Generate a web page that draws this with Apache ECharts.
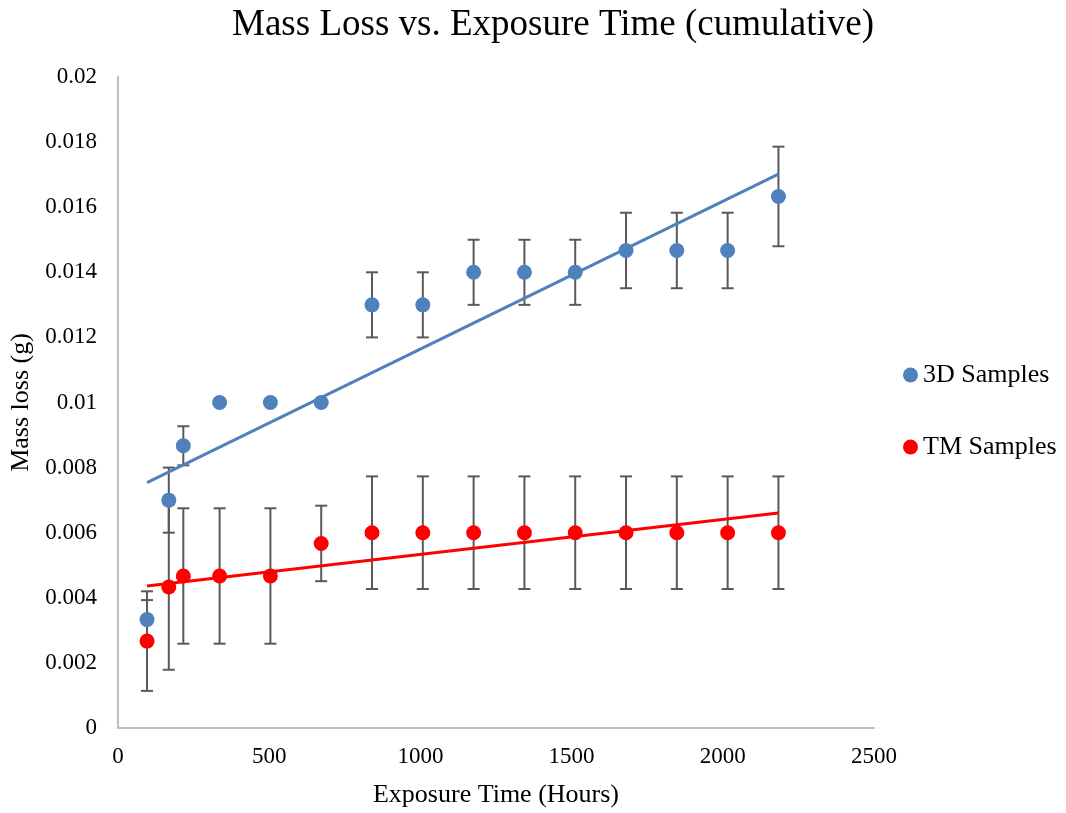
<!DOCTYPE html>
<html>
<head>
<meta charset="utf-8">
<script src="https://cdn.jsdelivr.net/npm/echarts@6/dist/echarts.min.js"></script>
<style>
  html, body { margin: 0; padding: 0; background: #fff; }
  #chart { width: 1066px; height: 813px; }
</style>
</head>
<body>
<div id="chart"></div>
<script>
  // exposure time (hours)
  const hours = [96, 168, 216, 336, 504, 672, 840, 1008, 1176, 1344, 1512, 1680, 1848, 2016, 2184]

  // 3D samples: mean mass loss and error (g)
  const mass3D = [0.00333, 0.007, 0.00867, 0.01, 0.01, 0.01, 0.013, 0.013, 0.014, 0.014, 0.014, 0.01467, 0.01467, 0.01467, 0.01633]
  const err3D = [0.0006, 0.001, 0.0006, 0, 0, 0, 0.001, 0.001, 0.001, 0.001, 0.001, 0.00116, 0.00116, 0.00116, 0.00153]

  // TM samples
  const massTM = [0.00267, 0.00433, 0.00467, 0.00467, 0.00467, 0.00567, 0.006, 0.006, 0.006, 0.006, 0.006, 0.006, 0.006, 0.006, 0.006]
  const errTM = [0.00153, 0.00254, 0.00208, 0.00208, 0.00208, 0.00116, 0.00173, 0.00173, 0.00173, 0.00173, 0.00173, 0.00173, 0.00173, 0.00173, 0.00173]

  const font = 'Liberation Serif'

  // least squares trend line, like excel's linear trendline
  function trend(xs, ys) {
    const n = xs.length
    const mx = xs.reduce((a, b) => a + b, 0) / n
    const my = ys.reduce((a, b) => a + b, 0) / n
    let sxy = 0, sxx = 0
    for (let i = 0; i < n; i++) {
      sxy += (xs[i] - mx) * (ys[i] - my)
      sxx += (xs[i] - mx) * (xs[i] - mx)
    }
    const b = sxy / sxx
    const a = my - b * mx
    const x0 = xs[0], x1 = xs[n - 1]
    return [[x0, a + b * x0], [x1, a + b * x1]]
  }

  function pts(ys) {
    return hours.map((h, i) => [h, ys[i]])
  }

  function errData(ys, es) {
    return hours.map((h, i) => [h, ys[i] - es[i], ys[i] + es[i]]).filter((d, i) => es[i] > 0)
  }

  function errorBar(params, api) {
    const lo = api.coord([api.value(0), api.value(1)])
    const hi = api.coord([api.value(0), api.value(2)])
    const w = 6
    const style = { stroke: '#595959', lineWidth: 2 }
    return {
      type: 'group',
      children: [
        { type: 'line', shape: { x1: lo[0], y1: lo[1], x2: hi[0], y2: hi[1] }, style: style },
        { type: 'line', shape: { x1: lo[0] - w, y1: lo[1], x2: lo[0] + w, y2: lo[1] }, style: style },
        { type: 'line', shape: { x1: hi[0] - w, y1: hi[1], x2: hi[0] + w, y2: hi[1] }, style: style }
      ]
    }
  }

  const chart = echarts.init(document.getElementById('chart'))

  const option = {
    animation: false,
    title: {
      text: 'Mass Loss vs. Exposure Time (cumulative)',
      left: 548,
      textAlign: 'center',
      top: 2,
      textStyle: { fontFamily: font, fontSize: 37, fontWeight: 'normal', color: '#000' }
    },
    legend: {
      data: ['3D Samples', 'TM Samples'],
      orient: 'vertical',
      left: 903,
      top: 362,
      padding: 0,
      itemGap: 46,
      itemWidth: 15,
      itemHeight: 15,
      textStyle: { fontFamily: font, fontSize: 26, color: '#000' }
    },
    grid: { left: 118, right: 192, top: 77, bottom: 84 },
    xAxis: {
      type: 'value',
      min: 0,
      max: 2500,
      interval: 500,
      name: 'Exposure Time (Hours)',
      nameLocation: 'middle',
      nameGap: 54,
      nameTextStyle: { fontFamily: font, fontSize: 26, color: '#000' },
      axisLine: { lineStyle: { color: '#bfbfbf', width: 2 } },
      axisTick: { show: false },
      axisLabel: { fontFamily: font, fontSize: 23, color: '#000', margin: 17, formatter: (v) => String(v) },
      splitLine: { show: false }
    },
    yAxis: {
      type: 'value',
      min: 0,
      max: 0.02,
      interval: 0.002,
      name: 'Mass loss (g)',
      nameLocation: 'middle',
      nameGap: 80,
      nameTextStyle: { fontFamily: font, fontSize: 26, color: '#000' },
      axisLine: { show: true, lineStyle: { color: '#bfbfbf', width: 2 } },
      axisTick: { show: false },
      axisLabel: { fontFamily: font, fontSize: 23, color: '#000', margin: 21 },
      splitLine: { show: false }
    },
    series: [
      {
        name: 'err3D',
        type: 'custom',
        renderItem: errorBar,
        data: errData(mass3D, err3D),
        z: 1
      },
      {
        name: 'errTM',
        type: 'custom',
        renderItem: errorBar,
        data: errData(massTM, errTM),
        z: 1
      },
      {
        name: '3D Samples',
        type: 'scatter',
        data: pts(mass3D),
        symbolSize: 15,
        itemStyle: { color: '#4f81bd', opacity: 1 },
        z: 3
      },
      {
        name: 'TM Samples',
        type: 'scatter',
        data: pts(massTM),
        symbolSize: 15,
        itemStyle: { color: '#ff0000', opacity: 1 },
        z: 3
      },
      {
        name: 'trend3D',
        type: 'line',
        data: trend(hours, mass3D),
        showSymbol: false,
        lineStyle: { color: '#4f81bd', width: 3 },
        z: 4
      },
      {
        name: 'trendTM',
        type: 'line',
        data: trend(hours, massTM),
        showSymbol: false,
        lineStyle: { color: '#ff0000', width: 3 },
        z: 4
      }
    ]
  }

  chart.setOption(option)
</script>
</body>
</html>
